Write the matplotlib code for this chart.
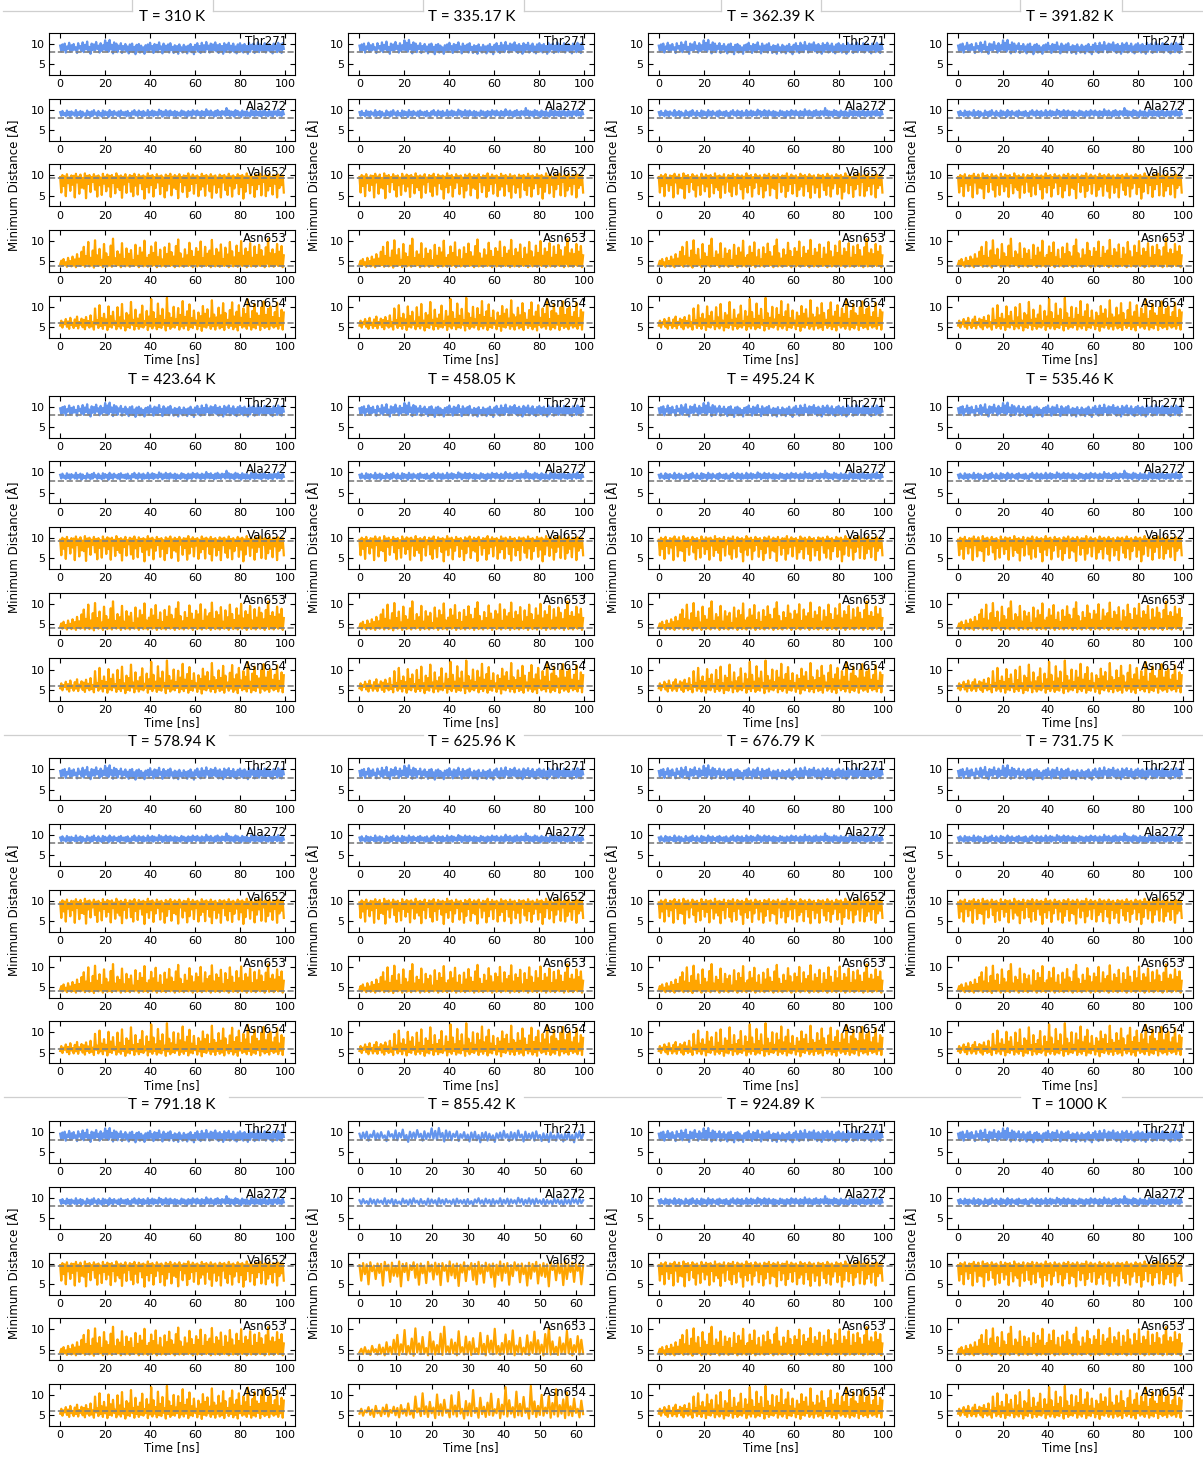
import matplotlib
matplotlib.use("Agg")
import matplotlib.pyplot as plt
from matplotlib.lines import Line2D
import numpy as np

# replica temperatures and trajectory lengths (ns)
temperatures = ["310", "335.17", "362.39", "391.82",
                "423.64", "458.05", "495.24", "535.46",
                "578.94", "625.96", "676.79", "731.75",
                "791.18", "855.42", "924.89", "1000"]
sim_length_ns = [100, 100, 100, 100,
                 100, 100, 100, 100,
                 100, 100, 100, 100,
                 100, 62, 100, 100]

residues = ["Thr271", "Ala272", "Val652", "Asn653", "Asn654"]
residue_colors = ["cornflowerblue", "cornflowerblue", "orange", "orange", "orange"]
reference_dist = [8.0, 8.0, 9.3, 4.0, 6.0]

# minimum distance traces [Å], sampled every 0.5 ns
thr271 = [
    9.6, 8.2, 9.9, 8.5, 10.1, 7.9, 9.4, 8.8, 10.3, 8.1, 9.7, 8.4, 10.0, 8.6, 9.2, 7.8, 10.2, 8.9, 9.5, 8.3,
    10.4, 8.0, 9.8, 8.7, 10.6, 8.2, 9.3, 7.6, 10.1, 8.5, 9.9, 8.4, 10.5, 8.8, 9.6, 7.9, 10.2, 8.3, 9.7, 8.6,
    10.9, 8.4, 10.3, 8.1, 11.0, 8.7, 9.8, 7.7, 10.4, 8.5, 10.1, 8.0, 9.6, 8.8, 10.2, 7.8, 9.5, 8.6, 10.0, 8.2,
    9.4, 7.7, 9.9, 8.3, 10.1, 8.0, 9.3, 7.5, 9.8, 8.4, 10.0, 7.9, 9.6, 8.2, 9.2, 7.6, 9.7, 8.5, 9.9, 8.1,
    10.3, 8.6, 9.5, 7.8, 10.0, 8.3, 9.8, 8.0, 10.4, 8.7, 9.4, 7.7, 10.1, 8.2, 9.6, 8.4, 9.9, 7.9, 10.2, 8.5,
    9.3, 7.8, 9.7, 8.1, 9.5, 7.6, 9.9, 8.3, 9.2, 7.9, 9.8, 8.4, 9.4, 7.7, 9.6, 8.2, 10.0, 8.0, 9.3, 7.5,
    9.8, 8.6, 10.2, 8.1, 9.5, 7.8, 10.3, 8.4, 9.7, 8.0, 10.5, 8.7, 9.6, 7.9, 10.1, 8.3, 9.9, 8.5, 10.4, 8.2,
    9.7, 7.8, 10.0, 8.4, 9.5, 7.6, 10.2, 8.1, 9.8, 8.6, 10.3, 7.9, 9.6, 8.3, 10.1, 8.0, 9.4, 7.7, 9.9, 8.5,
    10.2, 8.2, 9.7, 7.9, 10.0, 8.4, 9.5, 7.6, 10.3, 8.1, 9.8, 8.7, 10.1, 7.8, 9.6, 8.3, 10.4, 8.0, 9.9, 8.5,
    9.6, 8.2, 10.2, 7.9, 9.8, 8.4, 10.0, 8.1, 9.5, 7.7, 10.1, 8.6, 9.7, 8.0, 10.3, 8.3, 9.9, 7.8, 10.2, 8.8,
]
ala272 = [
    9.4, 8.5, 9.7, 8.7, 9.2, 8.4, 9.8, 8.6, 9.5, 8.3, 9.6, 8.8, 9.3, 8.5, 9.9, 8.4, 9.4, 8.7, 9.7, 8.2,
    9.5, 8.6, 9.1, 8.4, 9.8, 8.7, 9.4, 8.3, 9.6, 8.5, 9.9, 8.8, 9.3, 8.4, 9.7, 8.6, 9.2, 8.3, 9.8, 8.5,
    9.6, 8.7, 9.4, 8.2, 9.9, 8.6, 9.5, 8.4, 9.7, 8.8, 9.3, 8.5, 9.6, 8.3, 9.8, 8.7, 9.4, 8.6, 9.5, 8.4,
    9.7, 8.5, 9.2, 8.3, 9.6, 8.8, 9.9, 8.6, 9.4, 8.4, 9.8, 8.7, 9.5, 8.3, 9.7, 8.5, 9.3, 8.6, 9.9, 8.4,
    9.5, 8.6, 9.8, 8.4, 9.6, 8.7, 9.4, 8.5, 10.0, 8.8, 9.7, 8.3, 9.5, 8.6, 9.9, 8.5, 9.6, 8.4, 9.8, 8.7,
    9.4, 8.5, 9.7, 8.3, 9.5, 8.6, 9.3, 8.4, 9.8, 8.7, 9.6, 8.5, 9.4, 8.2, 9.7, 8.6, 9.5, 8.4, 9.9, 8.8,
    9.6, 8.5, 9.8, 8.7, 9.4, 8.3, 9.7, 8.6, 9.5, 8.4, 10.1, 8.7, 9.6, 8.5, 9.8, 8.6, 9.4, 8.3, 9.7, 8.5,
    9.9, 8.6, 9.5, 8.4, 9.7, 8.8, 9.6, 8.5, 10.4, 8.7, 9.8, 8.4, 9.6, 8.6, 9.5, 8.3, 9.9, 8.7, 9.7, 8.5,
    9.4, 8.2, 9.8, 8.6, 9.5, 8.4, 9.7, 8.5, 9.3, 8.3, 9.9, 8.7, 9.6, 8.4, 9.8, 8.6, 9.5, 8.5, 9.7, 8.3,
    9.6, 8.7, 9.9, 8.5, 9.4, 8.4, 9.8, 8.6, 9.5, 8.3, 9.7, 8.8, 9.6, 8.5, 10.0, 8.6, 9.4, 8.4, 9.8, 8.9,
]
val652 = [
    9.6, 5.8, 10.1, 7.4, 9.8, 4.9, 10.3, 8.1, 9.5, 6.2, 10.0, 7.7, 9.9, 4.6, 10.4, 8.3, 9.7, 5.5, 10.2, 7.0,
    9.4, 6.8, 10.5, 4.4, 9.9, 7.9, 10.1, 5.9, 9.6, 8.4, 10.3, 6.5, 9.8, 4.8, 10.0, 7.6, 9.5, 5.2, 10.4, 8.0,
    9.7, 6.1, 10.2, 7.3, 9.9, 4.7, 10.1, 8.2, 9.6, 5.6, 10.5, 7.1, 9.8, 6.4, 10.0, 4.5, 9.7, 7.8, 10.3, 5.7,
    9.5, 8.5, 10.1, 6.0, 9.9, 4.9, 10.4, 7.5, 9.6, 5.3, 10.2, 8.1, 9.8, 6.6, 10.0, 4.3, 9.7, 7.2, 10.5, 5.8,
    9.9, 7.7, 10.1, 4.8, 9.6, 6.9, 10.3, 8.3, 9.8, 5.4, 10.0, 7.4, 9.5, 4.6, 10.2, 6.3, 9.9, 8.0, 10.4, 5.1,
    9.7, 7.0, 10.1, 6.7, 9.8, 4.4, 10.3, 8.4, 9.6, 5.9, 10.0, 7.6, 9.9, 4.7, 10.5, 6.2, 9.7, 7.9, 10.2, 5.5,
    9.8, 8.2, 10.0, 4.9, 9.6, 6.5, 10.4, 7.3, 9.9, 5.0, 10.1, 8.0, 9.7, 6.1, 10.3, 4.5, 9.8, 7.8, 10.0, 5.7,
    9.5, 7.1, 10.2, 4.6, 9.9, 8.3, 10.1, 6.4, 9.7, 5.2, 10.4, 7.5, 9.8, 4.8, 10.0, 6.8, 9.6, 8.1, 10.3, 5.4,
    9.9, 7.2, 10.1, 4.3, 9.7, 6.0, 10.5, 8.2, 9.8, 5.6, 10.0, 7.7, 9.6, 4.7, 10.2, 6.6, 9.9, 7.9, 10.4, 5.1,
    9.7, 8.4, 10.0, 4.9, 9.8, 6.3, 10.3, 7.4, 9.6, 5.3, 10.1, 8.0, 9.9, 4.6, 10.2, 6.9, 9.7, 7.6, 10.0, 5.8,
]
asn653 = [
    4.3, 5.2, 3.9, 5.6, 4.1, 4.8, 3.7, 5.9, 4.4, 5.1, 3.8, 6.2, 4.0, 5.5, 3.6, 6.8, 4.2, 5.7, 3.9, 7.4,
    4.1, 8.6, 3.7, 6.3, 4.4, 9.8, 3.8, 5.9, 4.0, 7.7, 3.5, 10.2, 4.3, 6.5, 3.9, 8.1, 4.1, 5.4, 3.6, 9.3,
    4.2, 7.0, 3.8, 6.1, 4.0, 8.9, 3.7, 10.6, 4.4, 5.8, 3.9, 7.5, 4.1, 6.7, 3.6, 9.5, 4.3, 5.6, 3.8, 8.2,
    4.0, 6.9, 3.7, 7.8, 4.2, 5.3, 3.9, 9.1, 4.1, 6.4, 3.6, 8.4, 4.3, 7.2, 3.8, 10.1, 4.0, 5.9, 3.7, 6.6,
    4.2, 8.7, 3.9, 7.1, 4.1, 9.7, 3.6, 6.0, 4.4, 7.9, 3.8, 5.5, 4.0, 8.5, 3.7, 6.8, 4.2, 9.4, 3.9, 7.3,
    4.1, 6.2, 3.6, 8.8, 4.3, 10.4, 3.8, 7.0, 4.0, 5.7, 3.7, 8.0, 4.2, 6.5, 3.9, 9.6, 4.1, 7.6, 3.6, 6.1,
    4.4, 8.3, 3.8, 7.4, 4.0, 9.9, 3.7, 5.8, 4.2, 8.6, 3.9, 6.9, 4.1, 7.7, 3.6, 10.3, 4.3, 6.3, 3.8, 8.1,
    4.0, 7.2, 3.7, 9.2, 4.2, 5.6, 3.9, 8.4, 4.1, 6.7, 3.6, 9.8, 4.4, 7.5, 3.8, 6.0, 4.0, 8.9, 3.7, 7.1,
    4.2, 10.0, 3.9, 6.4, 4.1, 8.2, 3.6, 7.3, 4.3, 9.5, 3.8, 5.9, 4.0, 8.7, 3.7, 6.6, 4.2, 9.1, 3.9, 7.8,
    4.1, 6.2, 3.6, 8.5, 4.4, 10.5, 3.8, 7.0, 4.0, 8.0, 3.7, 6.8, 4.2, 9.3, 3.9, 7.4, 4.1, 8.8, 3.6, 6.5,
]
asn654 = [
    5.4, 6.6, 4.9, 6.2, 5.7, 7.0, 5.1, 6.4, 4.6, 7.3, 5.5, 6.1, 4.8, 6.9, 5.3, 7.6, 4.7, 6.3, 5.6, 7.1,
    5.0, 6.8, 4.5, 7.5, 5.4, 6.5, 4.9, 7.9, 5.2, 6.2, 4.4, 9.6, 5.7, 6.7, 4.8, 10.4, 5.3, 7.2, 4.6, 8.3,
    5.5, 6.9, 4.3, 10.1, 5.1, 7.7, 4.9, 8.8, 5.6, 6.4, 4.5, 9.9, 5.2, 7.4, 4.7, 10.7, 5.4, 6.6, 4.2, 8.5,
    5.0, 7.9, 4.8, 11.2, 5.6, 6.8, 4.4, 9.3, 5.3, 7.1, 4.6, 8.1, 5.1, 10.3, 4.9, 6.5, 5.5, 9.0, 4.3, 7.6,
    5.2, 11.9, 4.7, 8.7, 5.4, 7.0, 4.5, 10.8, 5.0, 7.8, 4.8, 9.5, 5.6, 6.7, 4.2, 12.2, 5.3, 8.4, 4.6, 7.3,
    5.1, 10.0, 4.9, 6.9, 5.5, 9.7, 4.4, 8.0, 5.2, 11.4, 4.7, 7.5, 5.4, 8.9, 4.3, 10.6, 5.0, 7.2, 4.8, 9.1,
    5.6, 6.6, 4.5, 8.6, 5.3, 7.7, 4.1, 10.2, 5.1, 8.3, 4.9, 9.4, 5.5, 7.1, 4.6, 11.6, 5.2, 8.1, 4.4, 7.4,
    5.4, 9.8, 4.7, 7.9, 5.0, 10.9, 4.3, 8.5, 5.6, 6.8, 4.8, 9.2, 5.3, 11.1, 4.5, 7.6, 5.1, 8.8, 4.2, 10.4,
    5.5, 7.3, 4.9, 9.6, 5.2, 8.2, 4.6, 11.8, 5.4, 7.0, 4.4, 9.0, 5.0, 10.7, 4.7, 8.4, 5.6, 7.8, 4.3, 9.9,
    5.3, 11.3, 4.8, 8.0, 5.1, 9.5, 4.5, 10.1, 5.4, 7.5, 4.9, 8.7, 5.2, 11.0, 4.6, 7.2, 5.5, 9.3, 4.4, 8.6,
]
traces = [thr271, ala272, val652, asn653, asn654]
dt_ns = 0.5

W, H = 1203, 1457
fig = plt.figure(figsize=(W / 100, H / 100), dpi=100)


def fx(x):
    return x / W


def fy(y):
    return 1 - y / H


col_pitch, block_pitch, row_pitch = 299.3, 362.7, 65.7
ax_w, ax_h = 246, 42
title_family = ["Liberation Sans Narrow", "Lato", "DejaVu Sans"]

for b, temp in enumerate(temperatures):
    r, c = divmod(b, 4)
    left = 49 + c * col_pitch
    top0 = 33 + r * block_pitch
    n = int(sim_length_ns[b] / dt_ns) + 1
    for k, (name, color, ref, y) in enumerate(zip(residues, residue_colors,
                                                   reference_dist, traces)):
        top = top0 + k * row_pitch
        ax = fig.add_axes([fx(left), fy(top + ax_h), ax_w / W, ax_h / H])
        vals = np.asarray(y[:n])
        t = np.arange(len(vals)) * dt_ns
        ax.plot(t, vals, color=color, lw=1.6)
        ax.axhline(ref, color="gray", ls="--", lw=1.2)
        ax.set_ylim(2.4, 12.7)
        ax.set_yticks([5, 10])
        ax.tick_params(direction="in", top=True, right=True, labelsize=8,
                       length=3.5, pad=3)
        ax.text(0.968, 0.96, name, transform=ax.transAxes, ha="right",
                va="top", fontsize=8.5, zorder=5)
        if k == 4:
            ax.set_xlabel("Time [ns]", fontsize=8.5, labelpad=1)
    fig.text(fx(left + ax_w / 2), fy(top0 - 16), f"T = {temp} K",
             ha="center", va="center", fontsize=11, family=title_family)
    fig.text(fx(15 + c * col_pitch), fy(top0 + 152), "Minimum Distance [Å]",
             rotation=90, ha="center", va="center", fontsize=8.5)

# light frame segments around the row titles
sep_color = "#cfcfcf"
row1_gaps = [(3, 132), (213, 423), (524, 721), (821, 1020), (1122, 1203)]
for x0, x1 in row1_gaps:
    fig.add_artist(Line2D([fx(x0), fx(x1)], [fy(11), fy(11)], color=sep_color, lw=0.9))
    for xe in (x0, x1):
        if 5 < xe < 1200:
            fig.add_artist(Line2D([fx(xe), fx(xe)], [fy(11), fy(0)], color=sep_color, lw=0.9))
lower_gaps = [(4, 127), (229, 423), (524, 721), (821, 1020), (1122, 1203)]
for yl in (735, 1097):
    for x0, x1 in lower_gaps:
        fig.add_artist(Line2D([fx(x0), fx(x1)], [fy(yl), fy(yl)], color=sep_color, lw=0.9))

fig.savefig("out.png", dpi=100)
